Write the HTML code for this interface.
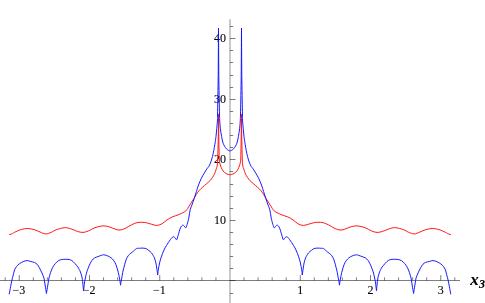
<!DOCTYPE html>
<html><head><meta charset="utf-8"><title>plot</title>
<style>
html,body{margin:0;padding:0;background:#fff;}
body{width:485px;height:303px;overflow:hidden;position:relative;font-family:"Liberation Serif",serif;}
</style></head><body>
<svg width="485" height="303" viewBox="0 0 485 303" style="position:absolute;left:0;top:0;will-change:transform">
<g stroke="#000" stroke-width="0.6" fill="none" stroke-opacity="0.85">
<line x1="0" y1="280.50" x2="460" y2="280.50"/>
<line x1="230.00" y1="19.2" x2="230.00" y2="303" stroke-opacity="0.72"/>
<line x1="5.20" y1="280.50" x2="5.20" y2="277.30"/>
<line x1="19.25" y1="280.50" x2="19.25" y2="275.10"/>
<line x1="33.30" y1="280.50" x2="33.30" y2="277.30"/>
<line x1="47.35" y1="280.50" x2="47.35" y2="277.30"/>
<line x1="61.40" y1="280.50" x2="61.40" y2="277.30"/>
<line x1="75.45" y1="280.50" x2="75.45" y2="277.30"/>
<line x1="89.50" y1="280.50" x2="89.50" y2="275.10"/>
<line x1="103.55" y1="280.50" x2="103.55" y2="277.30"/>
<line x1="117.60" y1="280.50" x2="117.60" y2="277.30"/>
<line x1="131.65" y1="280.50" x2="131.65" y2="277.30"/>
<line x1="145.70" y1="280.50" x2="145.70" y2="277.30"/>
<line x1="159.75" y1="280.50" x2="159.75" y2="275.10"/>
<line x1="173.80" y1="280.50" x2="173.80" y2="277.30"/>
<line x1="187.85" y1="280.50" x2="187.85" y2="277.30"/>
<line x1="201.90" y1="280.50" x2="201.90" y2="277.30"/>
<line x1="215.95" y1="280.50" x2="215.95" y2="277.30"/>
<line x1="244.05" y1="280.50" x2="244.05" y2="277.30"/>
<line x1="258.10" y1="280.50" x2="258.10" y2="277.30"/>
<line x1="272.15" y1="280.50" x2="272.15" y2="277.30"/>
<line x1="286.20" y1="280.50" x2="286.20" y2="277.30"/>
<line x1="300.25" y1="280.50" x2="300.25" y2="275.10"/>
<line x1="314.30" y1="280.50" x2="314.30" y2="277.30"/>
<line x1="328.35" y1="280.50" x2="328.35" y2="277.30"/>
<line x1="342.40" y1="280.50" x2="342.40" y2="277.30"/>
<line x1="356.45" y1="280.50" x2="356.45" y2="277.30"/>
<line x1="370.50" y1="280.50" x2="370.50" y2="275.10"/>
<line x1="384.55" y1="280.50" x2="384.55" y2="277.30"/>
<line x1="398.60" y1="280.50" x2="398.60" y2="277.30"/>
<line x1="412.65" y1="280.50" x2="412.65" y2="277.30"/>
<line x1="426.70" y1="280.50" x2="426.70" y2="277.30"/>
<line x1="440.75" y1="280.50" x2="440.75" y2="275.10"/>
<line x1="454.80" y1="280.50" x2="454.80" y2="277.30"/>
<line x1="230.00" y1="293.50" x2="233.20" y2="293.50"/>
<line x1="230.00" y1="280.50" x2="235.50" y2="280.50"/>
<line x1="230.00" y1="268.50" x2="233.20" y2="268.50"/>
<line x1="230.00" y1="256.50" x2="233.20" y2="256.50"/>
<line x1="230.00" y1="244.50" x2="233.20" y2="244.50"/>
<line x1="230.00" y1="232.50" x2="233.20" y2="232.50"/>
<line x1="230.00" y1="220.50" x2="235.50" y2="220.50"/>
<line x1="230.00" y1="208.50" x2="233.20" y2="208.50"/>
<line x1="230.00" y1="196.50" x2="233.20" y2="196.50"/>
<line x1="230.00" y1="184.50" x2="233.20" y2="184.50"/>
<line x1="230.00" y1="171.50" x2="233.20" y2="171.50"/>
<line x1="230.00" y1="159.50" x2="235.50" y2="159.50"/>
<line x1="230.00" y1="147.50" x2="233.20" y2="147.50"/>
<line x1="230.00" y1="135.50" x2="233.20" y2="135.50"/>
<line x1="230.00" y1="123.50" x2="233.20" y2="123.50"/>
<line x1="230.00" y1="111.50" x2="233.20" y2="111.50"/>
<line x1="230.00" y1="99.50" x2="235.50" y2="99.50"/>
<line x1="230.00" y1="87.50" x2="233.20" y2="87.50"/>
<line x1="230.00" y1="75.50" x2="233.20" y2="75.50"/>
<line x1="230.00" y1="62.50" x2="233.20" y2="62.50"/>
<line x1="230.00" y1="50.50" x2="233.20" y2="50.50"/>
<line x1="230.00" y1="38.50" x2="235.50" y2="38.50"/>
<line x1="230.00" y1="26.50" x2="233.20" y2="26.50"/>
</g>
<g font-family="'Liberation Serif', serif" font-size="12px" fill="#000" stroke="#000" stroke-width="0.1">
<text x="18.85" y="293.8" text-anchor="middle">−3</text>
<text x="89.10" y="293.8" text-anchor="middle">−2</text>
<text x="159.35" y="293.8" text-anchor="middle">−1</text>
<text x="300.25" y="293.8" text-anchor="middle">1</text>
<text x="370.50" y="293.8" text-anchor="middle">2</text>
<text x="440.75" y="293.8" text-anchor="middle">3</text>
<text x="225.9" y="223.85" text-anchor="end">10</text>
<text x="225.9" y="163.30" text-anchor="end">20</text>
<text x="225.9" y="102.75" text-anchor="end">30</text>
<text x="225.9" y="42.20" text-anchor="end">40</text>
<text x="470.2" y="285" font-size="17px" font-weight="bold" font-style="italic">x<tspan font-size="12px" dy="2.8" dx="0.3">3</tspan></text>
</g>
<g fill="none" stroke-linejoin="round" stroke-linecap="butt">
<path d="M9.20,234.55 C9.53,234.48 10.30,234.47 11.20,234.10 C12.10,233.72 12.93,233.07 14.60,232.30 C16.27,231.53 19.00,230.13 21.20,229.50 C23.40,228.87 25.60,228.47 27.80,228.50 C30.00,228.53 32.37,229.12 34.40,229.70 C36.43,230.28 38.10,231.30 40.00,232.00 C41.90,232.70 43.88,233.87 45.80,233.90 C47.72,233.93 49.70,232.92 51.50,232.20 C53.30,231.48 54.38,230.35 56.60,229.60 C58.82,228.85 62.38,227.82 64.80,227.70 C67.22,227.58 68.95,228.27 71.10,228.90 C73.25,229.53 75.72,230.92 77.70,231.50 C79.68,232.08 81.23,232.48 83.00,232.40 C84.77,232.32 86.32,231.78 88.30,231.00 C90.28,230.22 92.47,228.56 94.90,227.70 C97.33,226.84 100.50,225.98 102.90,225.85 C105.30,225.72 107.15,226.31 109.30,226.90 C111.45,227.49 114.02,228.88 115.80,229.40 C117.58,229.92 118.47,230.15 120.00,230.00 C121.53,229.85 123.07,229.37 125.00,228.50 C126.93,227.63 129.62,225.77 131.60,224.80 C133.58,223.83 135.18,223.12 136.90,222.70 C138.62,222.27 140.30,222.23 141.90,222.25 C143.50,222.27 144.92,222.48 146.50,222.80 C148.08,223.12 149.72,223.76 151.40,224.20 C153.08,224.64 154.87,225.50 156.60,225.45 C158.33,225.40 160.07,224.82 161.80,223.90 C163.53,222.98 165.25,221.07 167.00,219.90 C168.75,218.73 170.32,217.78 172.30,216.90 C174.28,216.02 176.92,215.42 178.90,214.60 C180.88,213.78 182.87,212.82 184.20,212.00 C185.53,211.18 186.17,210.55 186.90,209.70 C187.63,208.85 187.92,208.00 188.60,206.90 C189.28,205.80 190.12,204.48 191.00,203.10 C191.88,201.72 193.00,200.03 193.90,198.60 C194.80,197.17 195.57,195.80 196.40,194.50 C197.23,193.20 197.93,191.97 198.90,190.80 C199.87,189.63 200.90,188.70 202.20,187.50 C203.50,186.30 205.40,184.73 206.70,183.60 C208.00,182.47 209.03,181.73 210.00,180.70 C210.97,179.67 211.73,178.57 212.50,177.40 C213.27,176.23 213.98,175.08 214.60,173.70 C215.22,172.32 215.75,170.55 216.20,169.10 C216.65,167.65 217.03,167.12 217.30,165.00 C217.57,162.88 217.67,159.78 217.80,156.40 C217.93,153.02 218.00,149.10 218.10,144.70 C218.20,140.30 218.33,135.08 218.40,130.00 C218.47,124.92 218.48,116.83 218.50,114.20 M218.50,114.20 C218.53,116.83 218.63,125.17 218.70,130.00 C218.77,134.83 218.83,139.53 218.90,143.20 C218.97,146.87 219.05,149.53 219.10,152.00 C219.15,154.47 219.13,156.38 219.20,158.00 C219.27,159.62 219.33,160.58 219.50,161.70 C219.67,162.82 219.90,163.71 220.20,164.70 C220.50,165.69 220.82,166.60 221.30,167.65 C221.78,168.70 222.30,170.01 223.10,171.00 C223.90,171.99 224.95,172.97 226.10,173.60 C227.25,174.23 229.35,174.60 230.00,174.80 M230.00,174.80 C230.65,174.60 232.75,174.23 233.90,173.60 C235.05,172.97 236.10,171.99 236.90,171.00 C237.70,170.01 238.22,168.70 238.70,167.65 C239.18,166.60 239.50,165.69 239.80,164.70 C240.10,163.71 240.33,162.82 240.50,161.70 C240.67,160.58 240.73,159.62 240.80,158.00 C240.87,156.38 240.85,154.47 240.90,152.00 C240.95,149.53 241.03,146.87 241.10,143.20 C241.17,139.53 241.23,134.83 241.30,130.00 C241.37,125.17 241.47,116.83 241.50,114.20 M241.50,114.20 C241.52,116.83 241.53,124.92 241.60,130.00 C241.67,135.08 241.80,140.30 241.90,144.70 C242.00,149.10 242.07,153.02 242.20,156.40 C242.33,159.78 242.43,162.88 242.70,165.00 C242.97,167.12 243.35,167.65 243.80,169.10 C244.25,170.55 244.78,172.32 245.40,173.70 C246.02,175.08 246.73,176.23 247.50,177.40 C248.27,178.57 249.03,179.67 250.00,180.70 C250.97,181.73 252.00,182.47 253.30,183.60 C254.60,184.73 256.50,186.30 257.80,187.50 C259.10,188.70 260.13,189.63 261.10,190.80 C262.07,191.97 262.77,193.20 263.60,194.50 C264.43,195.80 265.20,197.17 266.10,198.60 C267.00,200.03 268.12,201.72 269.00,203.10 C269.88,204.48 270.72,205.80 271.40,206.90 C272.08,208.00 272.37,208.85 273.10,209.70 C273.83,210.55 274.47,211.18 275.80,212.00 C277.13,212.82 279.12,213.78 281.10,214.60 C283.08,215.42 285.72,216.02 287.70,216.90 C289.68,217.78 291.25,218.73 293.00,219.90 C294.75,221.07 296.47,222.98 298.20,223.90 C299.93,224.82 301.67,225.40 303.40,225.45 C305.13,225.50 306.92,224.64 308.60,224.20 C310.28,223.76 311.92,223.12 313.50,222.80 C315.08,222.48 316.50,222.27 318.10,222.25 C319.70,222.23 321.38,222.27 323.10,222.70 C324.82,223.12 326.42,223.83 328.40,224.80 C330.38,225.77 333.07,227.63 335.00,228.50 C336.93,229.37 338.47,229.85 340.00,230.00 C341.53,230.15 342.42,229.92 344.20,229.40 C345.98,228.88 348.55,227.49 350.70,226.90 C352.85,226.31 354.70,225.72 357.10,225.85 C359.50,225.98 362.67,226.84 365.10,227.70 C367.53,228.56 369.72,230.22 371.70,231.00 C373.68,231.78 375.23,232.32 377.00,232.40 C378.77,232.48 380.32,232.08 382.30,231.50 C384.28,230.92 386.75,229.53 388.90,228.90 C391.05,228.27 392.78,227.58 395.20,227.70 C397.62,227.82 401.18,228.85 403.40,229.60 C405.62,230.35 406.70,231.48 408.50,232.20 C410.30,232.92 412.28,233.93 414.20,233.90 C416.12,233.87 418.10,232.70 420.00,232.00 C421.90,231.30 423.57,230.28 425.60,229.70 C427.63,229.12 430.00,228.53 432.20,228.50 C434.40,228.47 436.60,228.87 438.80,229.50 C441.00,230.13 443.73,231.53 445.40,232.30 C447.07,233.07 447.90,233.72 448.80,234.10 C449.70,234.47 450.47,234.48 450.80,234.55" stroke="#ff1010" stroke-width="0.97"/>
<path d="M9.20,294.30 C9.43,293.03 10.15,289.07 10.60,286.70 C11.05,284.33 11.45,282.08 11.90,280.10 C12.35,278.12 12.85,276.52 13.30,274.80 C13.75,273.08 14.05,271.18 14.60,269.80 C15.15,268.42 15.83,267.48 16.60,266.50 C17.37,265.52 18.10,264.72 19.20,263.90 C20.30,263.08 21.88,262.15 23.20,261.60 C24.52,261.05 25.90,260.63 27.10,260.60 C28.30,260.57 29.18,261.09 30.40,261.40 C31.62,261.71 33.30,261.98 34.40,262.45 C35.50,262.92 36.20,263.38 37.00,264.20 C37.80,265.02 38.38,265.94 39.20,267.40 C40.02,268.86 41.12,271.20 41.90,272.95 C42.68,274.70 43.42,276.25 43.90,277.90 C44.38,279.55 44.47,281.20 44.75,282.85 C45.03,284.50 45.33,286.03 45.60,287.80 C45.88,289.57 46.27,292.55 46.40,293.50 M46.40,293.50 C46.57,292.55 47.10,289.57 47.40,287.80 C47.70,286.03 47.93,284.50 48.20,282.85 C48.47,281.20 48.60,279.62 49.00,277.90 C49.40,276.17 50.00,274.23 50.60,272.50 C51.20,270.77 51.82,268.98 52.60,267.50 C53.38,266.02 54.30,264.75 55.30,263.60 C56.30,262.45 57.50,261.28 58.60,260.60 C59.70,259.92 60.70,259.72 61.90,259.50 C63.10,259.28 64.48,259.28 65.80,259.30 C67.12,259.32 68.58,259.22 69.80,259.60 C71.02,259.98 72.00,260.67 73.10,261.60 C74.20,262.53 75.60,264.30 76.40,265.20 C77.20,266.10 77.42,266.27 77.90,267.00 C78.38,267.73 78.88,268.78 79.30,269.60 C79.72,270.42 79.97,270.69 80.40,271.90 C80.83,273.11 81.53,275.20 81.90,276.85 C82.28,278.50 82.44,280.15 82.65,281.80 C82.86,283.45 83.01,285.27 83.15,286.75 C83.29,288.23 83.44,290.04 83.50,290.70 M83.50,290.70 C83.59,290.04 83.87,288.23 84.05,286.75 C84.23,285.27 84.34,283.45 84.60,281.80 C84.86,280.15 85.23,278.50 85.60,276.85 C85.97,275.20 86.35,273.39 86.80,271.90 C87.25,270.41 87.77,269.25 88.30,267.90 C88.83,266.55 89.40,265.03 90.00,263.80 C90.60,262.57 91.13,261.48 91.90,260.50 C92.67,259.52 93.60,258.55 94.60,257.90 C95.60,257.25 96.80,257.02 97.90,256.60 C99.00,256.18 100.27,255.70 101.20,255.40 C102.13,255.10 102.63,254.80 103.50,254.80 C104.37,254.80 105.37,255.05 106.40,255.40 C107.43,255.75 108.70,256.30 109.70,256.90 C110.70,257.50 111.52,258.05 112.40,259.00 C113.28,259.95 114.27,261.23 115.00,262.60 C115.73,263.97 116.25,265.55 116.80,267.20 C117.35,268.85 117.87,270.73 118.30,272.50 C118.73,274.27 119.10,276.25 119.40,277.80 C119.70,279.35 119.91,280.57 120.10,281.80 C120.29,283.03 120.47,284.63 120.55,285.20 M120.55,285.20 C120.62,284.63 120.79,283.03 121.00,281.80 C121.21,280.57 121.52,279.35 121.80,277.80 C122.08,276.25 122.35,274.22 122.70,272.50 C123.05,270.78 123.41,269.40 123.90,267.50 C124.39,265.60 125.08,262.82 125.65,261.10 C126.22,259.38 126.69,258.30 127.30,257.20 C127.91,256.10 128.42,255.38 129.30,254.50 C130.18,253.62 131.40,252.88 132.60,251.90 C133.80,250.92 135.40,249.20 136.50,248.60 C137.60,248.00 138.32,248.38 139.20,248.30 C140.08,248.22 140.70,248.07 141.80,248.10 C142.90,248.13 144.70,248.15 145.80,248.50 C146.90,248.85 147.45,249.47 148.40,250.20 C149.35,250.93 150.70,252.00 151.50,252.90 C152.30,253.80 152.72,254.77 153.20,255.60 C153.68,256.43 153.95,256.68 154.40,257.90 C154.85,259.12 155.49,261.08 155.90,262.90 C156.31,264.72 156.55,266.78 156.85,268.80 C157.15,270.82 157.56,273.97 157.70,275.00 M157.70,275.00 C157.80,274.13 157.98,271.82 158.30,269.80 C158.62,267.78 159.10,265.05 159.60,262.90 C160.10,260.75 160.57,259.05 161.30,256.90 C162.03,254.75 163.15,251.88 164.00,250.00 C164.85,248.12 165.35,247.32 166.40,245.60 C167.45,243.88 169.20,241.17 170.30,239.70 C171.40,238.23 172.23,237.13 173.00,236.80 C173.77,236.47 174.28,237.22 174.90,237.70 C175.52,238.18 176.15,240.13 176.70,239.70 C177.25,239.27 177.57,237.08 178.20,235.10 C178.83,233.12 179.77,229.45 180.50,227.80 C181.23,226.15 181.98,225.48 182.60,225.20 C183.22,224.92 183.67,225.67 184.20,226.10 C184.73,226.53 185.32,228.07 185.80,227.80 C186.28,227.53 186.60,226.15 187.10,224.50 C187.60,222.85 188.28,220.37 188.80,217.90 C189.32,215.43 189.62,212.02 190.20,209.70 C190.78,207.38 191.62,205.92 192.30,204.00 C192.98,202.08 193.62,200.27 194.30,198.20 C194.98,196.13 195.70,193.80 196.40,191.60 C197.10,189.40 197.67,187.23 198.50,185.00 C199.33,182.77 200.50,180.08 201.40,178.20 C202.30,176.32 203.02,175.22 203.90,173.70 C204.78,172.18 205.75,170.55 206.70,169.10 C207.65,167.65 208.63,167.12 209.60,165.00 C210.57,162.88 211.63,159.78 212.50,156.40 C213.37,153.02 214.22,148.02 214.80,144.70 C215.38,141.38 215.67,139.25 216.00,136.50 C216.33,133.75 216.55,130.95 216.80,128.20 C217.05,125.45 217.38,122.37 217.50,120.00 C217.62,117.63 217.50,117.33 217.55,114.00 C217.60,110.67 217.70,105.67 217.80,100.00 C217.90,94.33 218.06,86.67 218.15,80.00 C218.24,73.33 218.26,68.67 218.32,60.00 C218.38,51.33 218.47,33.33 218.50,28.00 M218.50,28.00 C218.53,33.33 218.62,51.33 218.68,60.00 C218.74,68.67 218.76,73.33 218.85,80.00 C218.94,86.67 219.09,94.33 219.20,100.00 C219.31,105.67 219.42,110.67 219.50,114.00 C219.58,117.33 219.57,117.63 219.70,120.00 C219.83,122.37 219.98,125.45 220.30,128.20 C220.62,130.95 221.13,134.00 221.60,136.50 C222.07,139.00 222.30,141.15 223.10,143.20 C223.90,145.25 225.25,147.48 226.40,148.80 C227.55,150.12 229.40,150.72 230.00,151.10 M230.00,151.10 C230.60,150.72 232.45,150.12 233.60,148.80 C234.75,147.48 236.10,145.25 236.90,143.20 C237.70,141.15 237.93,139.00 238.40,136.50 C238.87,134.00 239.38,130.95 239.70,128.20 C240.02,125.45 240.17,122.37 240.30,120.00 C240.43,117.63 240.42,117.33 240.50,114.00 C240.58,110.67 240.69,105.67 240.80,100.00 C240.91,94.33 241.06,86.67 241.15,80.00 C241.24,73.33 241.26,68.67 241.32,60.00 C241.38,51.33 241.47,33.33 241.50,28.00 M241.50,28.00 C241.53,33.33 241.62,51.33 241.68,60.00 C241.74,68.67 241.76,73.33 241.85,80.00 C241.94,86.67 242.10,94.33 242.20,100.00 C242.30,105.67 242.40,110.67 242.45,114.00 C242.50,117.33 242.38,117.63 242.50,120.00 C242.62,122.37 242.95,125.45 243.20,128.20 C243.45,130.95 243.67,133.75 244.00,136.50 C244.33,139.25 244.62,141.38 245.20,144.70 C245.78,148.02 246.63,153.02 247.50,156.40 C248.37,159.78 249.43,162.88 250.40,165.00 C251.37,167.12 252.35,167.65 253.30,169.10 C254.25,170.55 255.22,172.18 256.10,173.70 C256.98,175.22 257.70,176.32 258.60,178.20 C259.50,180.08 260.67,182.77 261.50,185.00 C262.33,187.23 262.90,189.40 263.60,191.60 C264.30,193.80 265.02,196.13 265.70,198.20 C266.38,200.27 267.02,202.08 267.70,204.00 C268.38,205.92 269.22,207.38 269.80,209.70 C270.38,212.02 270.68,215.43 271.20,217.90 C271.72,220.37 272.40,222.85 272.90,224.50 C273.40,226.15 273.72,227.53 274.20,227.80 C274.68,228.07 275.27,226.53 275.80,226.10 C276.33,225.67 276.78,224.92 277.40,225.20 C278.02,225.48 278.77,226.15 279.50,227.80 C280.23,229.45 281.17,233.12 281.80,235.10 C282.43,237.08 282.75,239.27 283.30,239.70 C283.85,240.13 284.48,238.18 285.10,237.70 C285.72,237.22 286.23,236.47 287.00,236.80 C287.77,237.13 288.60,238.23 289.70,239.70 C290.80,241.17 292.55,243.88 293.60,245.60 C294.65,247.32 295.15,248.12 296.00,250.00 C296.85,251.88 297.97,254.75 298.70,256.90 C299.43,259.05 299.90,260.75 300.40,262.90 C300.90,265.05 301.38,267.78 301.70,269.80 C302.02,271.82 302.20,274.13 302.30,275.00 M302.30,275.00 C302.44,273.97 302.85,270.82 303.15,268.80 C303.45,266.78 303.69,264.72 304.10,262.90 C304.51,261.08 305.15,259.12 305.60,257.90 C306.05,256.68 306.32,256.43 306.80,255.60 C307.28,254.77 307.70,253.80 308.50,252.90 C309.30,252.00 310.65,250.93 311.60,250.20 C312.55,249.47 313.10,248.85 314.20,248.50 C315.30,248.15 317.10,248.13 318.20,248.10 C319.30,248.07 319.92,248.22 320.80,248.30 C321.68,248.38 322.40,248.00 323.50,248.60 C324.60,249.20 326.20,250.92 327.40,251.90 C328.60,252.88 329.82,253.62 330.70,254.50 C331.58,255.38 332.09,256.10 332.70,257.20 C333.31,258.30 333.78,259.38 334.35,261.10 C334.92,262.82 335.61,265.60 336.10,267.50 C336.59,269.40 336.95,270.78 337.30,272.50 C337.65,274.22 337.92,276.25 338.20,277.80 C338.48,279.35 338.79,280.57 339.00,281.80 C339.21,283.03 339.38,284.63 339.45,285.20 M339.45,285.20 C339.52,284.63 339.71,283.03 339.90,281.80 C340.09,280.57 340.30,279.35 340.60,277.80 C340.90,276.25 341.27,274.27 341.70,272.50 C342.13,270.73 342.65,268.85 343.20,267.20 C343.75,265.55 344.27,263.97 345.00,262.60 C345.73,261.23 346.72,259.95 347.60,259.00 C348.48,258.05 349.30,257.50 350.30,256.90 C351.30,256.30 352.57,255.75 353.60,255.40 C354.63,255.05 355.63,254.80 356.50,254.80 C357.37,254.80 357.87,255.10 358.80,255.40 C359.73,255.70 361.00,256.18 362.10,256.60 C363.20,257.02 364.40,257.25 365.40,257.90 C366.40,258.55 367.33,259.52 368.10,260.50 C368.87,261.48 369.40,262.57 370.00,263.80 C370.60,265.03 371.17,266.55 371.70,267.90 C372.23,269.25 372.75,270.41 373.20,271.90 C373.65,273.39 374.03,275.20 374.40,276.85 C374.77,278.50 375.14,280.15 375.40,281.80 C375.66,283.45 375.77,285.27 375.95,286.75 C376.13,288.23 376.41,290.04 376.50,290.70 M376.50,290.70 C376.56,290.04 376.71,288.23 376.85,286.75 C376.99,285.27 377.14,283.45 377.35,281.80 C377.56,280.15 377.73,278.50 378.10,276.85 C378.48,275.20 379.17,273.11 379.60,271.90 C380.03,270.69 380.28,270.42 380.70,269.60 C381.12,268.78 381.62,267.73 382.10,267.00 C382.58,266.27 382.80,266.10 383.60,265.20 C384.40,264.30 385.80,262.53 386.90,261.60 C388.00,260.67 388.98,259.98 390.20,259.60 C391.42,259.22 392.88,259.32 394.20,259.30 C395.52,259.28 396.90,259.28 398.10,259.50 C399.30,259.72 400.30,259.92 401.40,260.60 C402.50,261.28 403.70,262.45 404.70,263.60 C405.70,264.75 406.62,266.02 407.40,267.50 C408.18,268.98 408.80,270.77 409.40,272.50 C410.00,274.23 410.60,276.17 411.00,277.90 C411.40,279.62 411.53,281.20 411.80,282.85 C412.07,284.50 412.30,286.03 412.60,287.80 C412.90,289.57 413.43,292.55 413.60,293.50 M413.60,293.50 C413.73,292.55 414.12,289.57 414.40,287.80 C414.67,286.03 414.97,284.50 415.25,282.85 C415.53,281.20 415.62,279.55 416.10,277.90 C416.58,276.25 417.32,274.70 418.10,272.95 C418.88,271.20 419.98,268.86 420.80,267.40 C421.62,265.94 422.20,265.02 423.00,264.20 C423.80,263.38 424.50,262.92 425.60,262.45 C426.70,261.98 428.38,261.71 429.60,261.40 C430.82,261.09 431.70,260.57 432.90,260.60 C434.10,260.63 435.48,261.05 436.80,261.60 C438.12,262.15 439.70,263.08 440.80,263.90 C441.90,264.72 442.63,265.52 443.40,266.50 C444.17,267.48 444.85,268.42 445.40,269.80 C445.95,271.18 446.25,273.08 446.70,274.80 C447.15,276.52 447.65,278.12 448.10,280.10 C448.55,282.08 448.95,284.33 449.40,286.70 C449.85,289.07 450.57,293.03 450.80,294.30" stroke="#1212ff" stroke-width="0.97"/>
</g>
</svg>
</body></html>
